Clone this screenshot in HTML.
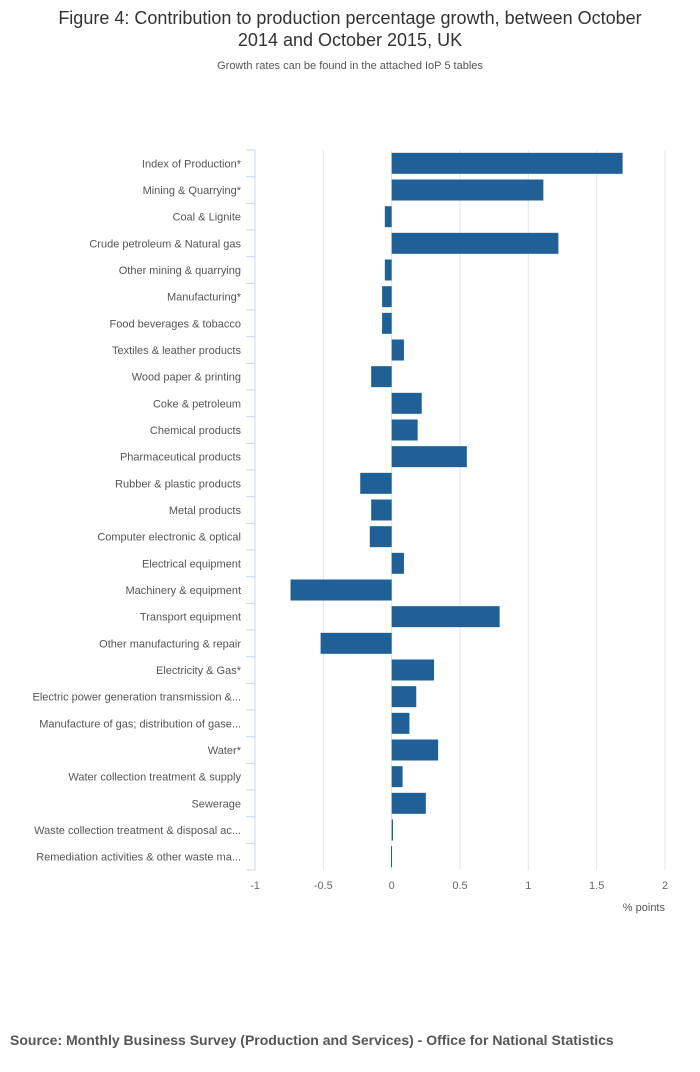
<!DOCTYPE html>
<html><head><meta charset="utf-8"><style>
body{margin:0;background:#fff;font-family:"Liberation Sans",sans-serif;}
</style></head><body>
<svg width="700" height="1067" xmlns="http://www.w3.org/2000/svg">
<text x="350" y="24" text-anchor="middle" font-size="18" fill="#333">Figure 4: Contribution to production percentage growth, between October</text>
<text x="350" y="46" text-anchor="middle" font-size="18" fill="#333">2014 and October 2015, UK</text>
<text x="350" y="69" text-anchor="middle" font-size="11" fill="#555">Growth rates can be found in the attached IoP 5 tables</text>
<g id="grid"></g><g id="bars"></g><g id="cats"></g><g id="ticks"></g>
<text x="665" y="911" text-anchor="end" font-size="11" fill="#555">% points</text>
<text x="10" y="1045" font-size="14" font-weight="bold" fill="#555">Source: Monthly Business Survey (Production and Services) - Office for National Statistics</text>
</svg>
<script>
const categories=["Index of Production*","Mining & Quarrying*","Coal & Lignite","Crude petroleum & Natural gas","Other mining & quarrying","Manufacturing*","Food beverages & tobacco","Textiles & leather products","Wood paper & printing","Coke & petroleum","Chemical products","Pharmaceutical products","Rubber & plastic products","Metal products","Computer electronic & optical","Electrical equipment","Machinery & equipment","Transport equipment","Other manufacturing & repair","Electricity & Gas*","Electric power generation transmission &...","Manufacture of gas; distribution of gase...","Water*","Water collection treatment & supply","Sewerage","Waste collection treatment & disposal ac...","Remediation activities & other waste ma..."];
const values=[1.69,1.11,-0.05,1.22,-0.05,-0.07,-0.07,0.09,-0.15,0.22,0.19,0.55,-0.23,-0.15,-0.16,0.09,-0.74,0.79,-0.52,0.31,0.18,0.13,0.34,0.08,0.25,0.01,-0.005];
const tickValues=[-1,-0.5,0,0.5,1,1.5,2];
const tickLabels=["-1","-0.5","0","0.5","1","1.5","2"];
const NS="http://www.w3.org/2000/svg";
const x0=255,x1=665,vmin=-1,vmax=2,plotTop=150,plotBottom=870;
const xs=v=>x0+(v-vmin)/(vmax-vmin)*(x1-x0);
const rowH=(plotBottom-plotTop)/categories.length;
function mk(t,a,p){const e=document.createElementNS(NS,t);for(const k in a)e.setAttribute(k,a[k]);document.getElementById(p).appendChild(e);return e;}
tickValues.forEach((v,i)=>{
 if(v!==vmin){const g=mk('line',{x1:xs(v),x2:xs(v),y1:plotTop,y2:plotBottom,stroke:'#e3e3e3','stroke-width':1},'grid');
 
 }
 const t=mk('text',{x:xs(v),y:plotBottom+19,'text-anchor':'middle','font-size':11,fill:'#666'},'ticks');t.textContent=tickLabels[i];
 
 
});
const ax=mk('line',{x1:x0,x2:x0,y1:plotTop,y2:plotBottom,stroke:'#ccd6eb','stroke-width':1},'grid');


for(let i=0;i<=categories.length;i++){const y=plotTop+i*rowH;const tk=mk('line',{x1:x0-9,x2:x0,y1:y,y2:y,stroke:'#ccd6eb'},'grid');
 
 }
categories.forEach((c,i)=>{
 const cy=plotTop+(i+0.5)*rowH;
 const t=mk('text',{x:241,y:cy+4,'text-anchor':'end','font-size':11,fill:'#555'},'cats');t.textContent=c;
 
 
 const v=values[i];const a=xs(Math.min(0,v)),b=xs(Math.max(0,v));
 const r=mk('rect',{x:a,y:cy-10.5,width:Math.max(b-a,1),height:21,fill:'#206095'},'bars');
 
 
});
</script>
</body></html>
